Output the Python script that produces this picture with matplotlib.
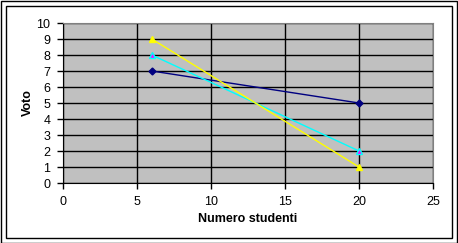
import matplotlib
matplotlib.use("Agg")
import matplotlib.pyplot as plt
from matplotlib.patches import Rectangle

plt.rcParams['font.family'] = ['Liberation Sans', 'DejaVu Sans']

x_vals = [6, 20]
series_navy = [7, 5]
series_cyan = [8, 2]
series_yellow = [9, 1]
x_ticks = [0, 5, 10, 15, 20, 25]
y_ticks = list(range(0, 11))

fig = plt.figure(figsize=(4.58, 2.43), dpi=100)
fig.patch.set_facecolor('white')
ax = fig.add_axes([63/458, 1-183/243, 370/458, 160/243])
ax.set_facecolor('#c0c0c0')

ax.plot(x_vals, series_navy, color='#000080', lw=1, marker='D', ms=3.5, mfc='#000080', mec='#000080', zorder=3)
ax.plot(x_vals, series_cyan, color='#00ffff', lw=1, marker='^', ms=5, mfc='#ff00ff', mec='#00ffff', zorder=3)
ax.plot(x_vals, series_yellow, color='#ffff00', lw=1, marker='^', ms=5, mfc='#ffff00', mec='#ffff00', zorder=3)

ax.set_xlim(0, 25)
ax.set_ylim(0, 10)
ax.set_xticks(x_ticks)
ax.set_yticks(y_ticks)
ax.grid(True, color='black', lw=1, zorder=1)
ax.set_axisbelow(True)
for s in ['top', 'right']:
    ax.spines[s].set_color('#808080')
for s in ['left', 'bottom']:
    ax.spines[s].set_color('black')
ax.tick_params(direction='out', length=4, width=1, labelsize=9, pad=5, colors='black')
ax.set_xlabel('Numero studenti', fontsize=9, fontweight='bold')
ax.set_ylabel('Voto', fontsize=9, fontweight='bold')
ax.yaxis.set_label_coords(-0.078, 0.5)
ax.xaxis.set_label_coords(0.5, -0.187)

fig.add_artist(Rectangle((0.5/458, 0.5/243), 456.5/458, 241.5/243, transform=fig.transFigure,
                         fill=False, ec='black', lw=1))
fig.add_artist(Rectangle((5.5/458, 5.5/243), 446/458, 231/243, transform=fig.transFigure,
                         fill=False, ec='black', lw=1))

fig.savefig('out.png', dpi=100)
